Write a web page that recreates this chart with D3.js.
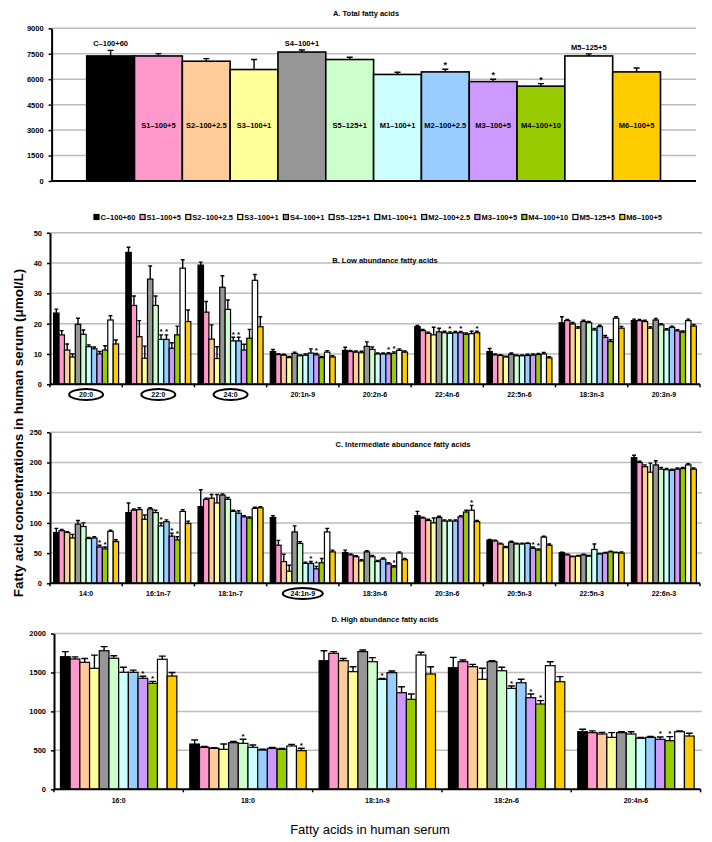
<!DOCTYPE html>
<html lang="en">
<head>
<meta charset="UTF-8">
<title>Fatty acids in human serum</title>
<script src="https://d3js.org/d3.v7.min.js"></script>
<style>
  body { margin: 0; background: #fff; }
  svg text { font-family: "Liberation Sans", Arial, sans-serif; fill: #000; }
</style>
</head>
<body>
<svg id="chart" width="712" height="842"></svg>
<script>
// treatment groups (legend order) and their colours
const series = ["C–100+60", "S1–100+5", "S2–100+2.5", "S3–100+1", "S4–100+1", "S5–125+1",
                "M1–100+1", "M2–100+2.5", "M3–100+5", "M4–100+10", "M5–125+5", "M6–100+5"];
const colors = ["#000000", "#ff99cc", "#ffcc99", "#ffff99", "#969696", "#ccffcc",
                "#ccffff", "#99ccff", "#cc99ff", "#99cc00", "#ffffff", "#ffcc00"];

// A. total fatty acids
const totalMean = [7370, 7370, 7060, 6570, 7600, 7160, 6280, 6430, 5860, 5590, 7370, 6430];
const totalErr  = [330, 140, 150, 590, 120, 130, 130, 160, 140, 150, 120, 230];
const totalStars = [7, 8, 9];
const totalTicks = [0, 1500, 3000, 4500, 6000, 7500, 9000];

// B. low abundance
const lowAcids = ["20:0", "22:0", "24:0", "20:1n-9", "20:2n-6", "22:4n-6", "22:5n-6", "18:3n-3", "20:3n-9"];
const lowMean = [
  [23.5, 16.3, 11.3, 9.0, 19.8, 16.5, 12.4, 11.7, 10.0, 11.3, 21.2, 13.3],
  [43.5, 26.0, 15.7, 8.6, 34.7, 26.0, 14.8, 14.8, 11.9, 16.3, 38.3, 20.7],
  [39.3, 23.8, 14.9, 8.5, 32.0, 24.7, 14.3, 14.3, 11.3, 15.2, 34.3, 19.0],
  [10.8, 9.8, 9.6, 8.8, 10.2, 9.4, 9.6, 10.3, 9.7, 8.8, 10.6, 9.0],
  [11.2, 10.8, 10.6, 10.4, 12.5, 11.5, 10.0, 10.0, 10.0, 10.2, 11.2, 10.6],
  [19.0, 17.7, 16.8, 16.3, 17.3, 17.0, 16.8, 17.0, 17.0, 16.5, 16.7, 17.0],
  [10.8, 9.7, 9.5, 9.0, 9.9, 9.4, 9.4, 9.5, 9.6, 9.8, 10.0, 8.7],
  [20.3, 21.0, 19.9, 18.5, 20.7, 20.3, 17.9, 19.0, 15.5, 14.1, 21.8, 18.5],
  [21.0, 21.0, 20.7, 18.5, 21.2, 19.6, 17.9, 18.8, 17.6, 17.2, 21.0, 19.2]
];
const lowErr = [
  [1.3, 1.4, 2.0, 1.0, 2.0, 1.4, 0.6, 0.6, 0.8, 1.4, 1.4, 1.3],
  [1.7, 3.1, 5.3, 4.0, 4.3, 3.1, 1.5, 1.5, 1.8, 2.9, 2.8, 3.8],
  [1.0, 3.5, 4.7, 3.9, 3.8, 3.1, 1.2, 1.2, 1.9, 2.9, 1.9, 3.3],
  [0.7, 0.3, 0.3, 0.4, 0.4, 0.3, 0.4, 1.4, 0.5, 0.4, 0.5, 0.4],
  [1.0, 0.4, 0.4, 0.5, 1.5, 0.8, 0.3, 0.3, 0.4, 0.5, 0.5, 0.4],
  [0.4, 0.4, 0.4, 2.5, 1.2, 0.5, 0.5, 0.4, 0.4, 0.4, 0.8, 0.5],
  [1.0, 0.3, 0.3, 0.3, 0.4, 0.3, 0.3, 0.4, 0.4, 0.4, 0.5, 0.4],
  [2.0, 0.4, 0.5, 0.5, 0.4, 0.4, 0.5, 0.5, 0.6, 0.6, 0.5, 0.6],
  [0.5, 0.4, 0.4, 0.5, 0.5, 0.4, 0.4, 0.4, 0.4, 0.4, 0.5, 0.5]
];
const lowStars = [[], [6, 7], [6, 7], [8], [8, 9], [6, 8, 11], [], [], []];
const lowCircled = ["20:0", "22:0", "24:0"];

// C. intermediate abundance
const midAcids = ["14:0", "16:1n-7", "18:1n-7", "24:1n-9", "18:3n-6", "20:3n-6", "20:5n-3", "22:5n-3", "22:6n-3"];
const midMean = [
  [84, 87, 84, 75, 98, 94, 74, 75, 60, 57, 86, 69],
  [117, 121, 122, 106, 123, 117, 95, 102, 78, 72, 119, 99],
  [127, 139, 141, 133, 146, 139, 119, 116, 110, 108, 124, 125],
  [109, 63, 36, 20, 85, 66, 33, 33, 24, 34, 85, 52],
  [51, 47, 44, 37, 52, 44, 36, 40, 32, 27, 50, 39],
  [112, 108, 104, 100, 109, 103, 103, 103, 110, 118, 121, 102],
  [71.5, 70, 65, 59, 68, 65, 65, 66, 58, 55, 76.5, 63],
  [50.5, 47, 44, 45, 47, 45, 56, 48.5, 50, 52, 50.5, 50],
  [208, 200, 193, 184, 196, 189, 188, 187, 189, 190, 196, 189]
];
const midErr = [
  [7, 2, 1.5, 6, 6, 6, 2, 2, 3, 3, 2, 3],
  [16, 2, 3, 7, 2, 4, 5, 3, 5, 5, 3, 4],
  [28, 2, 6, 14, 2, 3, 2, 4, 2, 2, 2, 2],
  [3, 8, 12, 10, 10, 3, 2, 3, 4, 7, 6, 3],
  [4, 1.5, 1.5, 2, 2, 2, 2, 2, 2, 2, 2, 2],
  [7, 1.5, 2, 8, 2, 2, 2, 2, 2, 3, 8, 2],
  [1, 1.5, 1.5, 2, 1.5, 1.5, 1.5, 1, 2, 2, 1.5, 2],
  [1, 1, 1, 1, 1, 1, 9, 1, 1, 1, 1, 2],
  [4, 2, 3, 15, 7, 3, 2, 2, 2, 2, 2, 2]
];
const midStars = [[8, 9], [6, 8, 9], [], [7, 8], [9], [10], [8, 9], [], []];
const midCircled = ["24:1n-9"];

// D. high abundance
const highAcids = ["16:0", "18:0", "18:1n-9", "18:2n-6", "20:4n-6"];
const highMean = [
  [1702, 1673, 1630, 1553, 1779, 1682, 1502, 1502, 1425, 1361, 1669, 1454],
  [581, 539, 526, 513, 598, 590, 539, 504, 526, 513, 556, 496],
  [1651, 1746, 1651, 1510, 1767, 1638, 1412, 1497, 1240, 1155, 1724, 1480],
  [1561, 1638, 1574, 1412, 1638, 1522, 1296, 1368, 1176, 1095, 1587, 1381],
  [739, 727, 710, 667, 727, 710, 655, 667, 642, 624, 739, 684]
];
const highErr = [
  [65, 27, 50, 170, 52, 32, 64, 28, 26, 25, 40, 46],
  [52, 10, 8, 68, 16, 52, 29, 10, 10, 10, 21, 30],
  [128, 21, 29, 64, 22, 52, 10, 22, 77, 68, 35, 94],
  [133, 22, 30, 141, 13, 44, 30, 44, 47, 43, 51, 65],
  [31, 23, 21, 60, 12, 29, 10, 10, 30, 52, 11, 35]
];
const highStars = [[8, 9], [5, 11], [6], [6, 8, 9], [8, 9]];

const svg = d3.select("#chart");
svg.append("rect").attr("width", 712).attr("height", 842).attr("fill", "#fff");

const GRID = "#bdbdbd";

function leftAxis(g, y, ticks, x) {
  const ax = g.append("g").attr("transform", `translate(${x},0)`)
    .call(d3.axisLeft(y).tickValues(ticks).tickSize(3).tickSizeOuter(0).tickPadding(5).tickFormat(d3.format("d")));
  ax.select(".domain").attr("stroke-width", 2);
  ax.selectAll(".tick line").attr("stroke-width", 1.5);
  ax.selectAll("text").attr("font-size", 7.5).attr("font-weight", "bold");
}

function errorBars(g, data, xc, y, cap) {
  g.selectAll(null).data(data).join("path")
    .attr("d", d => {
      const cx = xc(d), t = y(d.v + d.e);
      return `M${cx},${y(d.v)}V${t}M${cx - cap / 2},${t}H${cx + cap / 2}`;
    })
    .attr("stroke", "#000").attr("stroke-width", 1.4).attr("fill", "none");
}

// ---------- panel A ----------
{
  const g = svg.append("g");
  const x = d3.scaleBand().domain(series).range([86.7, 660.5]);
  const y = d3.scaleLinear().domain([0, 9000]).range([181, 28.3]);
  g.selectAll(null).data(totalTicks.slice(1)).join("line")
    .attr("x1", 51.6).attr("x2", 696).attr("y1", y).attr("y2", y)
    .attr("stroke", GRID).attr("stroke-width", 1.5);
  g.append("text").attr("x", 366).attr("y", 16).attr("text-anchor", "middle")
    .attr("font-size", 7.5).attr("font-weight", "bold").text("A.  Total fatty acids");

  const data = series.map((s, i) => ({ s, i, v: totalMean[i], e: totalErr[i] }));
  g.selectAll(null).data(data).join("rect")
    .attr("x", d => x(d.s)).attr("width", x.bandwidth())
    .attr("y", d => y(d.v)).attr("height", d => y(0) - y(d.v))
    .attr("fill", d => colors[d.i]).attr("stroke", "#000").attr("stroke-width", 1.6);
  errorBars(g, data, d => x(d.s) + x.bandwidth() / 2, y, 6);

  g.selectAll(null).data(data.filter(d => totalStars.includes(d.i))).join("text")
    .attr("x", d => x(d.s) + x.bandwidth() / 2).attr("y", d => y(d.v + d.e) - 1)
    .attr("text-anchor", "middle").attr("font-size", 9).attr("font-weight", "bold").text("*");

  const above = [0, 4, 10];
  g.selectAll(null).data(data).join("text")
    .attr("x", d => x(d.s) + x.bandwidth() / 2)
    .attr("y", d => above.includes(d.i) ? y(d.v + d.e) - 4 : y(3100))
    .attr("text-anchor", "middle").attr("font-size", 7.5).attr("font-weight", "bold")
    .text(d => d.s);

  leftAxis(g, y, totalTicks, 51.6);
  g.append("line").attr("x1", 51.6).attr("x2", 696).attr("y1", y(0)).attr("y2", y(0))
    .attr("stroke", "#000").attr("stroke-width", 2);
}

// ---------- legend ----------
{
  const g = svg.append("g");
  const items = g.selectAll(null).data(series).join("g");
  items.append("rect").attr("width", 5).attr("height", 5).attr("y", -5.5)
    .attr("fill", (d, i) => colors[i]).attr("stroke", "#000").attr("stroke-width", 1.2);
  const texts = items.append("text").attr("x", 6.5).attr("font-size", 7.5).attr("font-weight", "bold").text(d => d);
  const widths = texts.nodes().map(n => 6.5 + n.getComputedTextLength());
  const start = 94, end = 662;
  const gap = (end - start - d3.sum(widths)) / (series.length - 1);
  let cx = start;
  items.attr("transform", (d, i) => { const t = `translate(${cx},220)`; cx += widths[i] + gap; return t; });
}

// ---------- grouped panels ----------
function groupedPanel(p) {
  const g = svg.append("g");
  const x0 = d3.scaleBand().domain(p.acids).range(p.xr).paddingInner(0.1).paddingOuter(0.05);
  const x1 = d3.scaleBand().domain(d3.range(series.length)).range([0, x0.bandwidth()]);
  const y = d3.scaleLinear().domain([0, p.max]).range(p.yr);
  const ticks = d3.range(0, p.max + p.step / 2, p.step);

  g.selectAll(null).data(ticks.slice(1)).join("line")
    .attr("x1", p.xr[0]).attr("x2", p.gridEnd).attr("y1", y).attr("y2", y)
    .attr("stroke", GRID).attr("stroke-width", 1.5);
  g.append("text").attr("x", p.titleX).attr("y", p.titleY).attr("text-anchor", "middle")
    .attr("font-size", 7.5).attr("font-weight", "bold").text(p.title);

  const data = [];
  p.acids.forEach((a, gi) => p.mean[gi].forEach((v, i) =>
    data.push({ a, gi, i, v, e: p.err[gi][i], star: p.stars[gi].includes(i) })));
  const xc = d => x0(d.a) + x1(d.i) + x1.bandwidth() / 2;

  g.selectAll(null).data(data).join("rect")
    .attr("x", d => x0(d.a) + x1(d.i)).attr("width", x1.bandwidth())
    .attr("y", d => y(d.v)).attr("height", d => y(0) - y(d.v))
    .attr("fill", d => colors[d.i]).attr("stroke", "#000").attr("stroke-width", 1.2);
  errorBars(g, data, xc, y, x1.bandwidth() * 0.7);
  g.selectAll(null).data(data.filter(d => d.star)).join("text")
    .attr("x", xc).attr("y", d => y(d.v + d.e) - 0.5)
    .attr("text-anchor", "middle").attr("font-size", 8).attr("font-weight", "bold").text("*");

  leftAxis(g, y, ticks, p.xr[0]);
  g.append("line").attr("x1", p.xr[0]).attr("x2", p.xr[1]).attr("y1", y(0)).attr("y2", y(0))
    .attr("stroke", "#000").attr("stroke-width", 2);
  g.selectAll(null).data(d3.range(p.acids.length + 1)).join("line")
    .attr("x1", k => p.xr[0] + k * x0.step()).attr("x2", k => p.xr[0] + k * x0.step())
    .attr("y1", y(0)).attr("y2", y(0) + 3).attr("stroke", "#000").attr("stroke-width", 1.5);

  g.selectAll(null).data(p.acids).join("text")
    .attr("x", d => x0(d) + x0.bandwidth() / 2).attr("y", p.labelY)
    .attr("text-anchor", "middle").attr("font-size", 7).attr("font-weight", "bold").text(d => d);
  g.selectAll(null).data(p.circled || []).join("ellipse")
    .attr("cx", d => x0(d) + x0.bandwidth() / 2).attr("cy", p.labelY - 2.5)
    .attr("rx", d => d.length > 5 ? 20 : 17).attr("ry", 5.5)
    .attr("fill", "none").attr("stroke", "#000").attr("stroke-width", 2);
}

groupedPanel({ acids: lowAcids, mean: lowMean, err: lowErr, stars: lowStars, circled: lowCircled,
  xr: [50, 700], gridEnd: 702, yr: [384.3, 232.7], max: 50, step: 10,
  title: "B.  Low abundance fatty acids", titleX: 385, titleY: 263, labelY: 397 });

groupedPanel({ acids: midAcids, mean: midMean, err: midErr, stars: midStars, circled: midCircled,
  xr: [50, 700], gridEnd: 702, yr: [583.3, 432.3], max: 250, step: 50,
  title: "C.  Intermediate abundance fatty acids", titleX: 403, titleY: 447, labelY: 596 });

groupedPanel({ acids: highAcids, mean: highMean, err: highErr, stars: highStars,
  xr: [54, 700.6], gridEnd: 702, yr: [789.3, 633.5], max: 2000, step: 500,
  title: "D.  High abundance fatty acids", titleX: 385, titleY: 622, labelY: 803 });

// axis titles
svg.append("text").attr("x", 370).attr("y", 834).attr("text-anchor", "middle")
  .attr("font-size", 13).text("Fatty acids in human serum");
svg.append("text").attr("transform", "translate(23,433) rotate(-90)").attr("text-anchor", "middle")
  .attr("font-size", 13.5).attr("font-weight", "bold").text("Fatty acid concentrations in human serum (μmol/L)");
</script>
</body>
</html>
